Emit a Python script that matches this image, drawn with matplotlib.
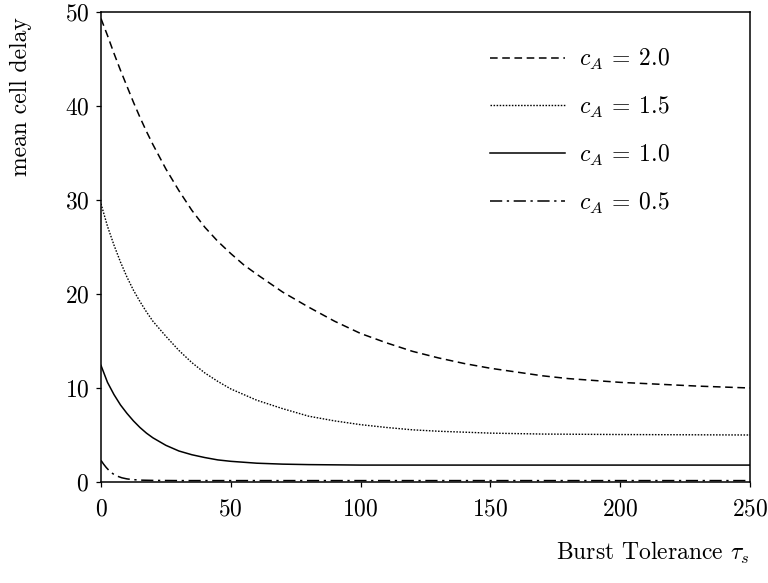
import matplotlib
matplotlib.use("Agg")
import matplotlib.pyplot as plt
from matplotlib.ticker import FixedLocator, NullLocator

plt.rcParams['font.family'] = ['cmr10', 'DejaVu Serif']
plt.rcParams['mathtext.fontset'] = 'cm'
plt.rcParams['axes.formatter.use_mathtext'] = True

# ---- data ----
x_c20 = [0, 2.5, 5, 7.5, 10, 12.5, 15, 17.5, 20, 25, 30, 35, 40, 45, 50, 55, 60,
         70, 80, 90, 100, 110, 120, 130, 140, 150, 160, 170, 180, 190, 200, 215,
         230, 250]
y_c20 = [49.3, 47.5, 45.6, 43.8, 42.1, 40.4, 38.8, 37.3, 35.9, 33.3, 31.0, 28.9,
         27.1, 25.6, 24.3, 23.1, 22.1, 20.2, 18.6, 17.1, 15.8, 14.8, 13.9, 13.2,
         12.6, 12.1, 11.7, 11.3, 11.0, 10.8, 10.6, 10.4, 10.2, 10.0]

x_c15 = [0, 2.5, 5, 7.5, 10, 12.5, 15, 17.5, 20, 25, 30, 35, 40, 45, 50, 55, 60,
         70, 80, 90, 100, 110, 120, 130, 140, 150, 170, 200, 250]
y_c15 = [29.6, 27.2, 25.2, 23.4, 21.8, 20.4, 19.2, 18.1, 17.1, 15.5, 14.0, 12.7,
         11.6, 10.7, 9.9, 9.3, 8.7, 7.8, 7.0, 6.5, 6.1, 5.8, 5.55, 5.4, 5.3, 5.2,
         5.1, 5.05, 5.0]

x_c10 = [0, 2.5, 5, 7.5, 10, 12.5, 15, 17.5, 20, 25, 30, 35, 40, 45, 50, 60, 70,
         80, 100, 150, 200, 250]
y_c10 = [12.4, 10.6, 9.3, 8.2, 7.3, 6.5, 5.8, 5.2, 4.7, 3.9, 3.3, 2.9, 2.6, 2.35,
         2.2, 2.0, 1.9, 1.85, 1.8, 1.8, 1.8, 1.8]

x_c05 = [0, 1, 2, 3, 4, 5, 6, 8, 10, 12, 15, 20, 30, 50, 100, 150, 200, 250]
y_c05 = [2.3, 1.9, 1.55, 1.25, 1.0, 0.8, 0.65, 0.45, 0.33, 0.26, 0.2, 0.17, 0.15,
         0.15, 0.15, 0.15, 0.15, 0.15]

labels = [r'$c_A\:=\:2.0$', r'$c_A\:=\:1.5$', r'$c_A\:=\:1.0$', r'$c_A\:=\:0.5$']
x_ticks = [0, 50, 100, 150, 200, 250]
y_ticks = [0, 10, 20, 30, 40, 50]

# ---- figure ----
W, H = 768, 583
FS = 17
fig = plt.figure(figsize=(W / 100, H / 100), dpi=100)
ax = fig.add_axes([101 / W, 1 - 482 / H, (750 - 101) / W, (482 - 12) / H])

ax.plot(x_c20, y_c20, color='black', lw=1.1, dashes=(5, 3), label=labels[0])
ax.plot(x_c15, y_c15, color='black', lw=1.0, dashes=(1.1, 1.1), label=labels[1])
ax.plot(x_c10, y_c10, color='black', lw=1.1, linestyle='-', label=labels[2])
ax.plot(x_c05, y_c05, color='black', lw=1.1, dashes=(8, 3, 1.5, 3), label=labels[3])

ax.set_xlim(0, 250)
ax.set_ylim(0, 50)
ax.xaxis.set_major_locator(FixedLocator(x_ticks))
ax.yaxis.set_major_locator(FixedLocator(y_ticks))
ax.xaxis.set_minor_locator(NullLocator())
ax.yaxis.set_minor_locator(NullLocator())
ax.tick_params(axis='both', direction='out', length=3.5, width=0.9,
               labelsize=FS, top=False, right=False)
ax.tick_params(axis='y', pad=5)
ax.tick_params(axis='x', pad=8)
for s in ax.spines.values():
    s.set_linewidth(1.1)

leg = ax.legend(loc='upper left', bbox_to_anchor=(0.599, 0.926), frameon=False,
                fontsize=FS, handlelength=3.2, handletextpad=0.6,
                labelspacing=0.97, borderpad=0, borderaxespad=0)

fig.text(21 / W, 1 - 97 / H, 'mean cell delay', rotation=90, ha='center',
         va='center', fontsize=FS)
fig.text(749 / W, 1 - 553 / H, r'Burst Tolerance $\tau_s$', ha='right',
         va='center', fontsize=FS)

fig.savefig('out.png', dpi=100)
